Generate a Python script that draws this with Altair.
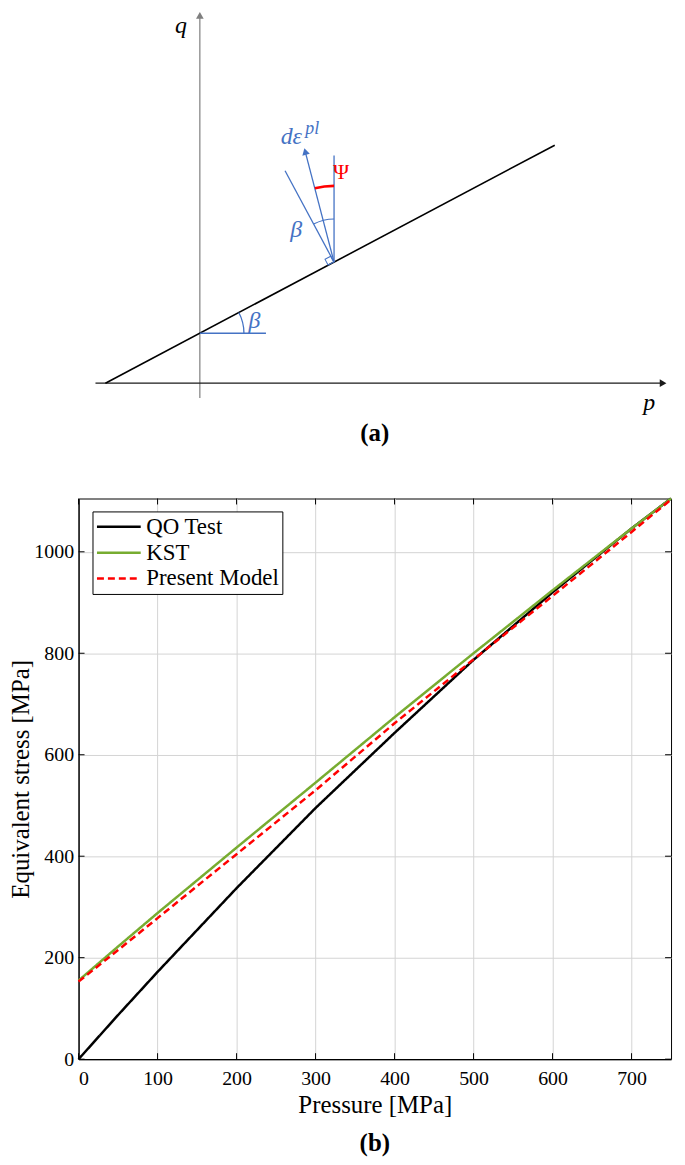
import math
import altair as alt
import pandas as pd

SERIF = "Liberation Serif"
BLUE = "#4472C4"
RED = "#FF0000"
GREEN = "#77AC30"

# ---------------- panel (b) data ----------------
series_names = ["QO Test", "KST", "Present Model"]
series_colors = ["#000000", GREEN, RED]
series_dash = [[1, 0], [1, 0], [7, 4]]
pressure_pts = [0, 50, 100, 200, 300, 400, 500, 600, 700, 750]
qo_test = [0, 87, 172, 337, 495, 643, 787, 920, 1046, 1105]
kst = [155, 222, 288, 417, 545, 674, 800, 924, 1046, 1105]
present_model = [153, 215, 278, 404, 530, 662, 788, 913, 1039, 1103]
x_ticks = [0, 100, 200, 300, 400, 500, 600, 700]
y_ticks = [0, 200, 400, 600, 800, 1000]
x_domain = [0, 750]
y_domain = [0, 1105]

# ---------------- panel (a) data (schematic units, origin at p/q axes) ----------------
seg_names = ["q_axis", "p_axis", "yield", "beta_ref", "vertical", "normal", "flow"]
seg_x1 = [0, -105, -95, 0, 135, 135, 135]
seg_y1 = [-15, 0, 0, 50.3, 121.8, 121.8, 121.8]
seg_x2 = [0, 466, 357, 66.5, 135, 85.7, 106]
seg_y2 = [370, 0, 239.4, 50.3, 229, 213.7, 233]

head_names = ["q_axis", "p_axis", "flow"]
head_x = [0, 466, 106]
head_y = [370, 0, 233]
head_angle = [0, 90, 345.4]

arc_names = ["psi", "beta_top", "beta_bottom"]
arc_x = [135, 135, 0]
arc_y = [121.8, 121.8, 50.3]
arc_r = [78, 44, 45]
arc_from_deg = [345.4, 331.8, 62.0]
arc_to_deg = [360.0, 360.0, 90.0]

sq_x = [130.3]
sq_y = [123.3]

axis_label_text = ["q", "p"]
axis_label_x = [-19, 452]
axis_label_y = [359, -20]
beta_label_text = ["β", "β"]
beta_label_x = [97, 55]
beta_label_y = [154, 63]
caption_a_x = [176]
caption_a_y = [-50]

TOP_W, TOP_H = 596, 438
PLOT_W, PLOT_H = 596, 564
SX = alt.Scale(domain=[-122, -122 + TOP_W], nice=False, zero=False)
SY = alt.Scale(domain=[374 - TOP_H, 374], nice=False, zero=False)


def xy(xf="x", yf="y"):
    return dict(x=alt.X(f"{xf}:Q", scale=SX, axis=None),
                y=alt.Y(f"{yf}:Q", scale=SY, axis=None))


seg_df = pd.DataFrame({"name": seg_names, "x": seg_x1, "y": seg_y1,
                       "x2": seg_x2, "y2": seg_y2})
seg_style = {
    "q_axis": ("#7f7f7f", 1.2),
    "p_axis": ("#1a1a1a", 1.2),
    "yield": ("#000000", 1.6),
    "beta_ref": (BLUE, 1.6),
    "vertical": (BLUE, 1.3),
    "normal": (BLUE, 1.3),
    "flow": (BLUE, 1.3),
}
top_layers = []
for nm, (col, w) in seg_style.items():
    top_layers.append(
        alt.Chart(seg_df[seg_df["name"] == nm]).mark_rule(color=col, strokeWidth=w).encode(
            x2="x2:Q", y2="y2:Q", **xy()))

head_df = pd.DataFrame({"name": head_names, "x": head_x, "y": head_y, "a": head_angle})
head_col = {"q_axis": "#7f7f7f", "p_axis": "#1a1a1a", "flow": BLUE}
for nm, col in head_col.items():
    top_layers.append(
        alt.Chart(head_df[head_df["name"] == nm]).mark_point(
            shape="triangle-up", filled=True, size=60, color=col, opacity=1).encode(
            angle=alt.Angle("a:Q", scale=None), **xy()))

arc_width = {"psi": 2.6, "beta_top": 1.1, "beta_bottom": 1.3}
arc_col = {"psi": RED, "beta_top": BLUE, "beta_bottom": BLUE}
arc_df = pd.DataFrame({"name": arc_names, "x": arc_x, "y": arc_y, "r": arc_r,
                       "t1": [math.radians(v) for v in arc_from_deg],
                       "t2": [math.radians(v) for v in arc_to_deg]})
arc_df["r2"] = [r - arc_width[n] for r, n in zip(arc_df["r"], arc_df["name"])]
for nm in arc_names:
    top_layers.append(
        alt.Chart(arc_df[arc_df["name"] == nm]).mark_arc(color=arc_col[nm]).encode(
            theta=alt.Theta("t1:Q", scale=None, stack=False),
            theta2="t2:Q",
            radius=alt.Radius("r:Q", scale=None),
            radius2="r2:Q",
            **xy()))

sq_df = pd.DataFrame({"x": sq_x, "y": sq_y})
top_layers.append(
    alt.Chart(sq_df).mark_point(shape="square", size=42, filled=False, color=BLUE,
                                strokeWidth=1, angle=332, opacity=1).encode(**xy()))

ax_lab = pd.DataFrame({"t": axis_label_text, "x": axis_label_x, "y": axis_label_y})
top_layers.append(
    alt.Chart(ax_lab).mark_text(font=SERIF, fontStyle="italic", fontSize=24, color="black",
                                align="center", baseline="middle").encode(text="t:N", **xy()))
beta_lab = pd.DataFrame({"t": beta_label_text, "x": beta_label_x, "y": beta_label_y})
top_layers.append(
    alt.Chart(beta_lab).mark_text(font=SERIF, fontStyle="italic", fontSize=24, color=BLUE,
                                  align="center", baseline="middle").encode(text="t:N", **xy()))

flow_lab = pd.DataFrame({"t": ["dε"], "x": [92], "y": [248]})
top_layers.append(
    alt.Chart(flow_lab).mark_text(font=SERIF, fontStyle="italic", fontSize=24, color=BLUE,
                                  align="center", baseline="middle").encode(text="t:N", **xy()))
flow_sup = pd.DataFrame({"t": ["pl"], "x": [113], "y": [256]})
top_layers.append(
    alt.Chart(flow_sup).mark_text(font=SERIF, fontStyle="italic", fontSize=18, color=BLUE,
                                  align="center", baseline="middle").encode(
        text="t:N", **xy()))
psi_lab = pd.DataFrame({"t": ["Ψ"], "x": [142], "y": [212]})
top_layers.append(
    alt.Chart(psi_lab).mark_text(font=SERIF, fontSize=22, color=RED,
                                 align="center", baseline="middle").encode(text="t:N", **xy()))
cap_a = pd.DataFrame({"t": ["(a)"], "x": caption_a_x, "y": caption_a_y})
top_layers.append(
    alt.Chart(cap_a).mark_text(font=SERIF, fontSize=25, fontWeight="bold", color="black",
                               align="center", baseline="middle").encode(text="t:N", **xy()))

top = alt.layer(*top_layers).properties(
    width=TOP_W, height=TOP_H,
    view=alt.ViewBackground(strokeOpacity=0),
)

# ---------------- panel (b) ----------------
rows = []
for name, vals in zip(series_names, [qo_test, kst, present_model]):
    for p, q in zip(pressure_pts, vals):
        rows.append({"p": p, "q": q, "series": name})
line_df = pd.DataFrame(rows)

x_axis = alt.Axis(values=x_ticks, title="Pressure [MPa]", grid=True, ticks=False,
                  labelPadding=9, titlePadding=5, format="d")
y_axis = alt.Axis(values=y_ticks, title="Equivalent stress [MPa]", grid=True, ticks=False,
                  labelPadding=5, titlePadding=0, format="d")
xs = alt.Scale(domain=x_domain, nice=False, zero=False)
ys = alt.Scale(domain=y_domain, nice=False, zero=False)

legend = alt.Legend(orient="none", legendX=14, legendY=13, title=None,
                    symbolType="M-2,0H2", symbolSize=484, symbolStrokeWidth=2.5,
                    symbolOffset=11, symbolFillColor="transparent",
                    labelFont=SERIF, labelFontSize=23, labelColor="black", labelOffset=15,
                    rowPadding=1, padding=3, fillColor="white", strokeColor="black",
                    cornerRadius=0)

lines = alt.Chart(line_df).mark_line(strokeWidth=2.5).encode(
    x=alt.X("p:Q", scale=xs, axis=x_axis),
    y=alt.Y("q:Q", scale=ys, axis=y_axis),
    color=alt.Color("series:N", scale=alt.Scale(domain=series_names, range=series_colors),
                    legend=legend, sort=series_names),
    strokeDash=alt.StrokeDash("series:N", scale=alt.Scale(domain=series_names, range=series_dash),
                              legend=legend, sort=series_names),
)

xt_df = pd.DataFrame({"p": x_ticks})
yt_df = pd.DataFrame({"q": y_ticks})
tick_b = alt.Chart(xt_df).mark_rule(color="black", strokeWidth=1).encode(
    x=alt.X("p:Q", scale=xs, axis=x_axis), y=alt.value(PLOT_H), y2=alt.value(PLOT_H - 6))
tick_t = alt.Chart(xt_df).mark_rule(color="black", strokeWidth=1).encode(
    x=alt.X("p:Q", scale=xs, axis=x_axis), y=alt.value(0), y2=alt.value(6))
tick_l = alt.Chart(yt_df).mark_rule(color="black", strokeWidth=1).encode(
    y=alt.Y("q:Q", scale=ys, axis=y_axis), x=alt.value(0), x2=alt.value(6))
tick_r = alt.Chart(yt_df).mark_rule(color="black", strokeWidth=1).encode(
    y=alt.Y("q:Q", scale=ys, axis=y_axis), x=alt.value(PLOT_W), x2=alt.value(PLOT_W - 6))

bottom = alt.layer(tick_b, tick_t, tick_l, tick_r, lines).properties(
    width=PLOT_W, height=PLOT_H,
    view=alt.ViewBackground(stroke="black", strokeWidth=1),
    title=alt.TitleParams("(b)", orient="bottom", anchor="middle", frame="group",
                          font=SERIF, fontSize=25, fontWeight="bold", color="black", offset=13),
)

chart = alt.vconcat(top, bottom, spacing=46).resolve_scale(
    color="independent", strokeDash="independent"
).resolve_legend(
    color="independent", strokeDash="independent"
).properties(padding=0).configure_axis(
    labelFont=SERIF, labelFontSize=20, labelColor="black",
    titleFont=SERIF, titleFontSize=25, titleFontWeight="normal", titleColor="black",
    domainColor="black", domainWidth=1.3, gridColor="#d4d4d4", gridWidth=1,
).configure_view(stroke="transparent")

chart.save("out.html", embed_options={"renderer": "svg", "actions": False})
